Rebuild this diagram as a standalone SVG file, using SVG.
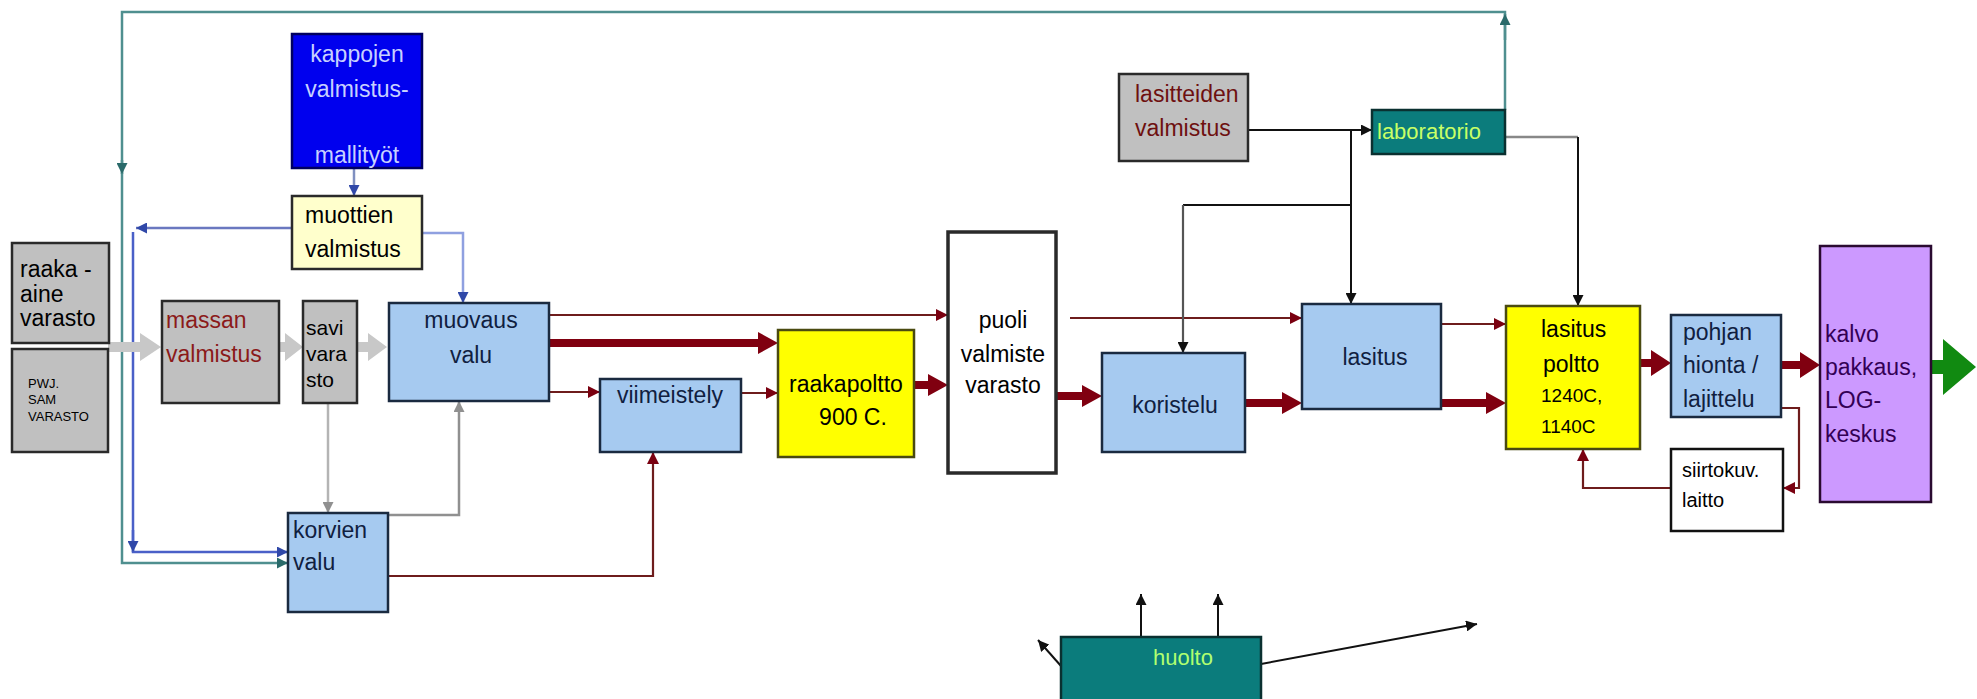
<svg xmlns="http://www.w3.org/2000/svg" width="1977" height="699" viewBox="0 0 1977 699">
<style>
.t{font-family:"Liberation Sans",Arial,sans-serif;font-size:23px;fill:#000}
.s{font-size:19px}
.gray{fill:#c0c0c0;stroke:#2a2a2a;stroke-width:2.5}
.blue{fill:#a6caf0;stroke:#1a2a40;stroke-width:2.5}
.yel{fill:#ffff00;stroke:#4a4a10;stroke-width:2.5}
.teal{fill:#0b7c7c;stroke:#0a3030;stroke-width:2.5}
.red{stroke:#6e1c1c;stroke-width:2.2;fill:none}
.blk{stroke:#111;stroke-width:2;fill:none}
.fat{fill:#800010}
.gfat{fill:#c8c8c8}
</style>
<defs>
<marker id="aR" viewBox="0 0 10 10" refX="10" refY="5" markerWidth="12" markerHeight="12" markerUnits="userSpaceOnUse" orient="auto"><path d="M0,0 L10,5 L0,10 z" fill="#7a0010"/></marker>
<marker id="aK" viewBox="0 0 10 10" refX="10" refY="5" markerWidth="11" markerHeight="11" markerUnits="userSpaceOnUse" orient="auto"><path d="M0,0 L10,5 L0,10 z" fill="#111"/></marker>
<marker id="aG" viewBox="0 0 10 10" refX="10" refY="5" markerWidth="11" markerHeight="11" markerUnits="userSpaceOnUse" orient="auto"><path d="M0,0 L10,5 L0,10 z" fill="#909090"/></marker>
<marker id="aB" viewBox="0 0 10 10" refX="10" refY="5" markerWidth="11" markerHeight="11" markerUnits="userSpaceOnUse" orient="auto"><path d="M0,0 L10,5 L0,10 z" fill="#3048a8"/></marker>
<marker id="aT" viewBox="0 0 10 10" refX="10" refY="5" markerWidth="11" markerHeight="11" markerUnits="userSpaceOnUse" orient="auto"><path d="M0,0 L10,5 L0,10 z" fill="#2a6a6a"/></marker>
</defs>
<rect width="1977" height="699" fill="#fff"/>

<g id="connectors">
  <path d="M1505,110 V12 H122 V563 H288" fill="none" stroke="#4f8f8f" stroke-width="2.5" marker-end="url(#aT)"/>
  <path d="M1505,40 V14" fill="none" stroke="#4f8f8f" stroke-width="2.5" marker-end="url(#aT)"/>
  <path d="M122,160 V174" fill="none" stroke="#4f8f8f" stroke-width="2.5" marker-end="url(#aT)"/>
  <path d="M292,228 H136" fill="none" stroke="#6a78c0" stroke-width="2.5" marker-end="url(#aB)"/>
  <path d="M133,232 V552 H288" fill="none" stroke="#4a60c8" stroke-width="2.5" marker-end="url(#aB)"/>
  <path d="M133,530 V552" fill="none" stroke="#4a60c8" stroke-width="2.5" marker-end="url(#aB)"/>
  <path d="M354,168 V196" fill="none" stroke="#8090c0" stroke-width="2.5" marker-end="url(#aB)"/>
  <path d="M422,233 H463 V303" fill="none" stroke="#8fa0e0" stroke-width="2.5" marker-end="url(#aB)"/>
  <path d="M328,403 V513" fill="none" stroke="#b4b4b4" stroke-width="2.5" marker-end="url(#aG)"/>
  <path d="M388,515 H459 V401" fill="none" stroke="#909090" stroke-width="2.5" marker-end="url(#aG)"/>
  <polygon class="gfat" points="108,342 140,342 140,333 161,347 140,361 140,352 108,352"/>
  <polygon class="gfat" points="279,342 285,342 285,333 303,347 285,361 285,352 279,352"/>
  <polygon class="gfat" points="357,342 368,342 368,333 387,347 368,361 368,352 357,352"/>
  <path class="red" d="M549,315 H948" marker-end="url(#aR)"/>
  <path class="red" d="M549,392 H600" marker-end="url(#aR)"/>
  <path class="red" d="M741,393 H778" marker-end="url(#aR)"/>
  <path class="red" d="M388,576 H653 V452" marker-end="url(#aR)"/>
  <path class="red" d="M1070,318 H1302" marker-end="url(#aR)"/>
  <path class="red" d="M1441,324 H1506" marker-end="url(#aR)"/>
  <path class="red" d="M1781,408 H1799 V488 H1783" marker-end="url(#aR)"/>
  <path class="red" d="M1671,488 H1583 V449" marker-end="url(#aR)"/>
  <polygon class="fat" points="549,339 758,339 758,332 778,343 758,354 758,347 549,347"/>
  <polygon class="fat" points="914,381 928,381 928,374 948,385 928,396 928,389 914,389"/>
  <polygon class="fat" points="1056,392 1082,392 1082,385 1102,396 1082,407 1082,400 1056,400"/>
  <polygon class="fat" points="1245,399 1282,399 1282,392 1302,403 1282,414 1282,407 1245,407"/>
  <polygon class="fat" points="1441,399 1486,399 1486,392 1506,403 1486,414 1486,407 1441,407"/>
  <polygon class="fat" points="1640,359 1651,359 1651,350 1671,363 1651,376 1651,367 1640,367"/>
  <polygon class="fat" points="1781,361 1800,361 1800,352 1820,365 1800,378 1800,369 1781,369"/>
  <polygon fill="#118a11" points="1931,360 1943,360 1943,339 1976,367 1943,395 1943,374 1931,374"/>
  <path class="blk" d="M1248,130 H1372" marker-end="url(#aK)"/>
  <path class="blk" d="M1351,130 V304" marker-end="url(#aK)"/>
  <path class="blk" d="M1351,205 H1183"/>
  <path d="M1183,205 V353" fill="none" stroke="#555" stroke-width="2.2" marker-end="url(#aK)"/>
  <path d="M1505,137 H1578" fill="none" stroke="#888" stroke-width="2.5"/>
  <path class="blk" d="M1578,137 V306" marker-end="url(#aK)"/>
  <path class="blk" d="M1141,637 V594" marker-end="url(#aK)"/>
  <path class="blk" d="M1218,637 V594" marker-end="url(#aK)"/>
  <path class="blk" d="M1061,666 L1038,640" marker-end="url(#aK)"/>
  <path class="blk" d="M1261,664 L1477,624" marker-end="url(#aK)"/>
</g>

<g id="raaka">
  <rect class="gray" x="12" y="243" width="97" height="100"/>
  <text class="t" x="20" y="277">raaka -</text>
  <text class="t" x="20" y="302">aine</text>
  <text class="t" x="20" y="326">varasto</text>
</g>
<g id="pwj">
  <rect class="gray" x="12" y="349" width="96" height="103"/>
  <text class="t" style="font-size:13px" x="28" y="388">PWJ.</text>
  <text class="t" style="font-size:13px" x="28" y="404">SAM</text>
  <text class="t" style="font-size:13px" x="28" y="421">VARASTO</text>
</g>
<g id="kappojen">
  <rect x="292" y="34" width="130" height="134" fill="#0000ee" stroke="#000060" stroke-width="2.5"/>
  <text class="t" x="357" y="62" text-anchor="middle" style="fill:#c8d0ff">kappojen</text>
  <text class="t" x="357" y="97" text-anchor="middle" style="fill:#c8d0ff">valmistus-</text>
  <text class="t" x="357" y="163" text-anchor="middle" style="fill:#c8d0ff">mallityöt</text>
</g>
<g id="muottien">
  <rect x="292" y="196" width="130" height="73" fill="#ffffcc" stroke="#2a2a2a" stroke-width="2.5"/>
  <text class="t" x="305" y="223">muottien</text>
  <text class="t" x="305" y="257">valmistus</text>
</g>
<g id="massan">
  <rect class="gray" x="162" y="301" width="117" height="102"/>
  <text class="t" x="166" y="328" style="fill:#8b1a1a">massan</text>
  <text class="t" x="166" y="362" style="fill:#8b1a1a">valmistus</text>
</g>
<g id="savi">
  <rect class="gray" x="303" y="301" width="54" height="102"/>
  <text class="t" x="306" y="335" style="font-size:21px">savi</text>
  <text class="t" x="306" y="361" style="font-size:21px">vara</text>
  <text class="t" x="306" y="387" style="font-size:21px">sto</text>
</g>
<g id="muovaus">
  <rect class="blue" x="389" y="303" width="160" height="98"/>
  <text class="t" x="471" y="328" text-anchor="middle" style="fill:#102040">muovaus</text>
  <text class="t" x="471" y="363" text-anchor="middle" style="fill:#102040">valu</text>
</g>
<g id="korvien">
  <rect class="blue" x="288" y="513" width="100" height="99"/>
  <text class="t" x="293" y="538" style="fill:#102040">korvien</text>
  <text class="t" x="293" y="570" style="fill:#102040">valu</text>
</g>
<g id="viimeistely">
  <rect class="blue" x="600" y="379" width="141" height="73"/>
  <text class="t" x="670" y="403" text-anchor="middle" style="fill:#102040">viimeistely</text>
</g>
<g id="raakapoltto">
  <rect class="yel" x="778" y="330" width="136" height="127"/>
  <text class="t" x="846" y="392" text-anchor="middle">raakapoltto</text>
  <text class="t" x="853" y="425" text-anchor="middle">900 C.</text>
</g>
<g id="puoli">
  <rect x="948" y="232" width="108" height="241" fill="#fff" stroke="#2a2a2a" stroke-width="3.5"/>
  <text class="t" x="1003" y="328" text-anchor="middle">puoli</text>
  <text class="t" x="1003" y="362" text-anchor="middle">valmiste</text>
  <text class="t" x="1003" y="393" text-anchor="middle">varasto</text>
</g>
<g id="koristelu">
  <rect class="blue" x="1102" y="353" width="143" height="99"/>
  <text class="t" x="1175" y="413" text-anchor="middle" style="fill:#102040">koristelu</text>
</g>
<g id="lasitus">
  <rect class="blue" x="1302" y="304" width="139" height="105"/>
  <text class="t" x="1375" y="365" text-anchor="middle" style="fill:#102040">lasitus</text>
</g>
<g id="lasitteiden">
  <rect class="gray" x="1119" y="74" width="129" height="87"/>
  <text class="t" x="1135" y="102" style="fill:#6e1010">lasitteiden</text>
  <text class="t" x="1135" y="136" style="fill:#6e1010">valmistus</text>
</g>
<g id="laboratorio">
  <rect class="teal" x="1372" y="110" width="133" height="44"/>
  <text class="t" x="1377" y="139" style="fill:#c8ff66;font-size:22px">laboratorio</text>
</g>
<g id="lasituspoltto">
  <rect class="yel" x="1506" y="306" width="134" height="143"/>
  <text class="t" x="1541" y="337">lasitus</text>
  <text class="t" x="1543" y="372">poltto</text>
  <text class="t s" x="1541" y="402">1240C,</text>
  <text class="t s" x="1541" y="433">1140C</text>
</g>
<g id="pohjan">
  <rect class="blue" x="1671" y="315" width="110" height="102"/>
  <text class="t" x="1683" y="340" style="fill:#102040">pohjan</text>
  <text class="t" x="1683" y="373" style="fill:#102040">hionta /</text>
  <text class="t" x="1683" y="407" style="fill:#102040">lajittelu</text>
</g>
<g id="siirtokuv">
  <rect x="1671" y="449" width="112" height="82" fill="#fff" stroke="#111" stroke-width="2.5"/>
  <text class="t" x="1682" y="477" style="font-size:20px">siirtokuv.</text>
  <text class="t" x="1682" y="507" style="font-size:20px">laitto</text>
</g>
<g id="kalvo">
  <rect x="1820" y="246" width="111" height="256" fill="#cc99ff" stroke="#2a0a30" stroke-width="2.5"/>
  <text class="t" x="1825" y="342" style="fill:#330055">kalvo</text>
  <text class="t" x="1825" y="375" style="fill:#330055">pakkaus,</text>
  <text class="t" x="1825" y="408" style="fill:#330055">LOG-</text>
  <text class="t" x="1825" y="442" style="fill:#330055">keskus</text>
</g>
<g id="huolto">
  <rect class="teal" x="1061" y="637" width="200" height="70"/>
  <text class="t" x="1183" y="665" text-anchor="middle" style="fill:#b0ff70;font-size:22px">huolto</text>
</g>
</svg>
